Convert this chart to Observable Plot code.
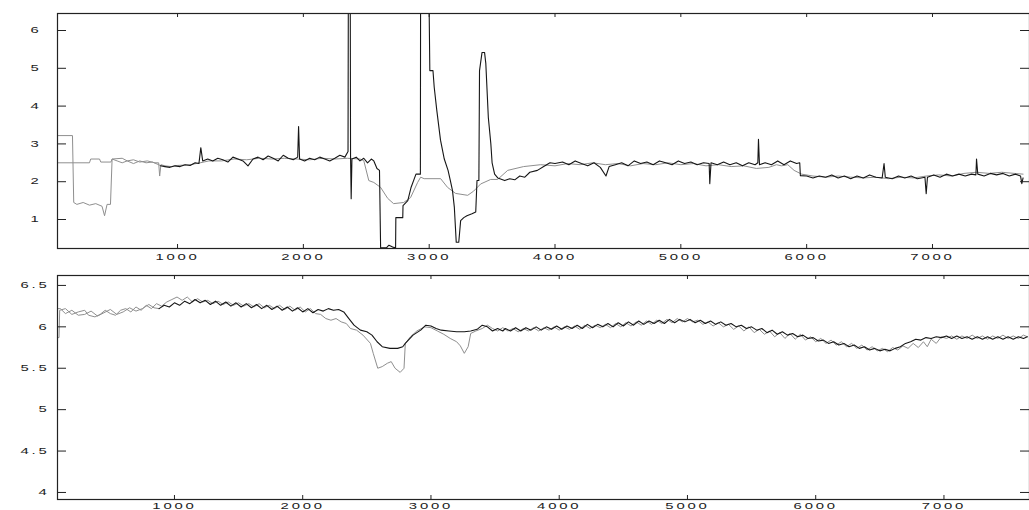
<!DOCTYPE html>
<html>
<head>
<meta charset="utf-8">
<script src="https://cdn.jsdelivr.net/npm/d3@7"></script>
<script src="https://cdn.jsdelivr.net/npm/@observablehq/plot@0.6"></script>
<style>
  html, body { margin: 0; padding: 0; background: #fff; }
  svg { display: block; }
</style>
</head>
<body>
<div id="chart"></div>
<script>
// ---------- tick labels ----------
const xTicks = [1000, 2000, 3000, 4000, 5000, 6000, 7000];
const topYTicks = [1, 2, 3, 4, 5, 6];
const bottomYTicks = [4, 4.5, 5, 5.5, 6, 6.5];

// ---------- top panel series [x, y] ----------
const topGrey = [
  [46,2.50],[300,2.50],[310,2.60],[380,2.60],[390,2.52],[470,2.52],[480,2.60],[560,2.62],[600,2.55],
  [650,2.58],[700,2.52],[760,2.55],[820,2.50],[850,2.50],[858,2.15],[868,2.45],[900,2.42],[950,2.40],
  [1000,2.43],[1100,2.45],[1180,2.50],[1250,2.55],[1350,2.55],[1450,2.60],[1550,2.58],[1650,2.62],
  [1750,2.60],[1850,2.62],[1950,2.60],[2050,2.58],[2150,2.62],[2250,2.60],[2350,2.62],[2450,2.60],
  [2480,2.56],[2520,2.03],[2560,1.98],[2614,1.85],[2670,1.56],[2717,1.42],[2797,1.45],[2852,1.58],
  [2908,1.98],[2932,2.12],[2960,2.08],[3091,2.08],[3146,1.85],[3210,1.69],[3306,1.64],[3353,1.75],
  [3409,1.94],[3489,2.06],[3544,2.06],[3624,2.30],[3750,2.40],[3886,2.45],[4000,2.42],[4100,2.48],
  [4200,2.45],[4300,2.50],[4400,2.45],[4500,2.48],[4600,2.42],[4700,2.48],[4800,2.45],[4900,2.50],
  [5000,2.45],[5100,2.48],[5200,2.42],[5300,2.45],[5400,2.40],[5500,2.42],[5600,2.35],[5700,2.38],
  [5760,2.45],[5800,2.42],[5850,2.45],[5900,2.30],[5960,2.20],[6050,2.15],[6150,2.12],[6250,2.15],
  [6350,2.12],[6450,2.10],[6550,2.12],[6650,2.08],[6750,2.12],[6850,2.10],[6950,2.15],[7050,2.18],
  [7150,2.15],[7250,2.22],[7350,2.25],[7450,2.22],[7550,2.25],[7650,2.22],[7720,2.20]
];
const topBlack = [
  [46,3.22],[165,3.22],[175,1.45],[200,1.40],[250,1.45],[300,1.38],[350,1.42],[400,1.35],[420,1.10],
  [440,1.40],[467,1.40],[480,2.60],[520,2.55],[560,2.50],[600,2.55],[650,2.48],[700,2.55],[750,2.50],
  [800,2.52],[850,2.45],[865,2.42],[900,2.40],[940,2.38],[980,2.42],[1020,2.40],[1060,2.45],[1100,2.43],
  [1140,2.50],[1170,2.48],[1185,2.90],[1200,2.55],[1240,2.60],[1280,2.55],[1320,2.62],[1360,2.58],
  [1400,2.52],[1440,2.65],[1480,2.60],[1520,2.55],[1560,2.42],[1600,2.60],[1640,2.65],[1680,2.58],
  [1720,2.68],[1760,2.62],[1800,2.55],[1840,2.70],[1880,2.62],[1920,2.58],[1955,2.65],[1962,3.46],
  [1970,2.60],[2010,2.55],[2050,2.62],[2090,2.58],[2130,2.65],[2170,2.60],[2210,2.55],[2250,2.62],
  [2290,2.70],[2330,2.65],[2355,2.80],[2358,8],[2372,8],[2375,2.70],[2380,1.55],[2386,2.60],
  [2420,2.65],[2450,2.55],[2480,2.62],[2510,2.50],[2540,2.60],[2560,2.55],[2585,2.35],[2605,2.30],
  [2614,0.25],[2660,0.25],[2680,0.32],[2710,0.27],[2733,0.25],[2735,1.05],[2790,1.05],[2792,1.37],
  [2830,1.50],[2855,1.84],[2895,2.20],[2930,2.20],[2932,8],[2995,8],[3005,4.94],[3030,4.94],
  [3040,4.50],[3060,3.90],[3090,3.10],[3120,2.60],[3150,2.30],[3170,2.00],[3185,1.77],[3200,1.32],
  [3215,0.40],[3235,0.40],[3250,0.97],[3275,1.05],[3300,1.10],[3340,1.15],[3370,1.20],[3380,2.03],
  [3395,2.03],[3400,4.94],[3420,5.42],[3440,5.42],[3450,5.13],[3470,3.70],[3490,3.00],[3500,2.50],
  [3520,2.20],[3545,2.10],[3600,2.03],[3640,2.08],[3680,2.05],[3720,2.15],[3760,2.12],[3800,2.25],
  [3860,2.30],[3910,2.40],[3960,2.50],[4000,2.48],[4060,2.52],[4110,2.45],[4160,2.55],[4210,2.48],
  [4260,2.42],[4310,2.50],[4360,2.38],[4405,2.15],[4430,2.40],[4480,2.45],[4530,2.50],[4580,2.42],
  [4630,2.55],[4680,2.48],[4730,2.52],[4780,2.45],[4830,2.55],[4880,2.50],[4930,2.45],[4980,2.55],
  [5030,2.48],[5080,2.52],[5130,2.45],[5180,2.50],[5225,2.48],[5230,1.95],[5240,2.50],[5290,2.45],
  [5340,2.52],[5390,2.45],[5440,2.50],[5490,2.42],[5540,2.50],[5590,2.45],[5612,2.50],[5617,3.12],
  [5625,2.45],[5670,2.50],[5720,2.45],[5770,2.55],[5820,2.45],[5870,2.55],[5920,2.48],[5945,2.50],
  [5950,2.16],[6000,2.15],[6050,2.10],[6100,2.15],[6150,2.12],[6200,2.18],[6250,2.10],[6300,2.15],
  [6350,2.08],[6400,2.15],[6450,2.10],[6500,2.18],[6550,2.12],[6600,2.10],[6615,2.48],[6625,2.12],
  [6680,2.08],[6730,2.15],[6780,2.10],[6830,2.15],[6880,2.08],[6940,2.12],[6950,1.68],[6960,2.12],
  [7010,2.18],[7060,2.12],[7110,2.20],[7160,2.15],[7210,2.20],[7260,2.15],[7310,2.20],[7345,2.18],
  [7350,2.60],[7360,2.20],[7410,2.15],[7460,2.22],[7510,2.18],[7560,2.22],[7610,2.15],[7660,2.20],
  [7700,2.15],[7710,1.95],[7720,2.10]
];

// ---------- bottom panel series [x, y] ----------
const bottomGrey = [
  [88,5.87],[100,5.87],[105,6.20],[150,6.22],[200,6.15],[250,6.18],[300,6.20],[330,6.14],[380,6.12],
  [420,6.15],[460,6.20],[500,6.16],[540,6.14],[580,6.20],[620,6.22],[660,6.18],[700,6.24],[740,6.20],
  [780,6.26],[820,6.22],[860,6.28],[900,6.25],[940,6.30],[980,6.33],[1020,6.36],[1060,6.32],[1100,6.36],
  [1140,6.30],[1180,6.34],[1220,6.30],[1260,6.32],[1300,6.28],[1340,6.31],[1380,6.27],[1420,6.30],
  [1460,6.26],[1500,6.29],[1540,6.25],[1580,6.28],[1620,6.24],[1660,6.28],[1700,6.23],[1740,6.26],
  [1780,6.22],[1820,6.26],[1860,6.21],[1900,6.25],[1940,6.20],[1980,6.24],[2020,6.18],[2060,6.22],
  [2100,6.16],[2140,6.15],[2180,6.10],[2220,6.08],[2260,6.10],[2300,6.06],[2340,6.04],[2372,5.98],
  [2420,5.96],[2470,5.90],[2528,5.80],[2550,5.68],[2585,5.50],[2620,5.52],[2660,5.56],[2690,5.58],
  [2720,5.50],[2760,5.45],[2790,5.50],[2800,5.80],[2840,5.88],[2890,5.95],[2950,6.00],[3000,5.99],
  [3050,5.95],[3100,5.91],[3150,5.86],[3200,5.82],[3229,5.77],[3260,5.68],[3290,5.76],[3310,5.92],
  [3350,5.95],[3400,5.98],[3440,6.02],[3480,5.98],[3520,5.95],[3560,5.99],[3600,5.95],[3640,5.98],
  [3680,5.94],[3720,5.98],[3760,5.95],[3800,5.99],[3840,5.95],[3880,5.99],[3920,5.96],[3960,6.00],
  [4000,5.96],[4040,6.00],[4080,5.97],[4120,6.01],[4160,5.97],[4200,6.02],[4240,5.98],[4280,6.02],
  [4320,5.99],[4360,6.03],[4400,5.99],[4440,6.04],[4480,6.00],[4520,6.05],[4560,6.01],[4600,6.06],
  [4640,6.02],[4680,6.07],[4720,6.03],[4760,6.08],[4800,6.04],[4840,6.09],[4880,6.05],[4920,6.10],
  [4960,6.06],[5000,6.10],[5040,6.06],[5080,6.08],[5120,6.03],[5160,6.06],[5200,6.01],[5240,6.05],
  [5280,6.00],[5320,6.03],[5360,5.97],[5400,6.01],[5440,5.95],[5480,6.00],[5520,5.93],[5560,5.97],
  [5600,5.91],[5640,5.95],[5680,5.88],[5720,5.93],[5760,5.86],[5800,5.92],[5840,5.85],[5880,5.91],
  [5920,5.84],[5960,5.88],[6000,5.82],[6040,5.86],[6080,5.80],[6120,5.84],[6160,5.78],[6200,5.82],
  [6240,5.76],[6280,5.80],[6320,5.74],[6360,5.78],[6400,5.72],[6440,5.76],[6480,5.71],[6520,5.74],
  [6560,5.70],[6600,5.75],[6640,5.72],[6680,5.77],[6720,5.74],[6760,5.80],[6800,5.75],[6840,5.82],
  [6870,5.76],[6900,5.85],[6940,5.80],[6980,5.88],[7020,5.86],[7060,5.89],[7100,5.85],[7140,5.89],
  [7180,5.86],[7220,5.90],[7260,5.86],[7300,5.89],[7340,5.85],[7380,5.89],[7420,5.86],[7460,5.90],
  [7500,5.86],[7540,5.89],[7580,5.86],[7620,5.90],[7650,5.88]
];
const bottomBlack = [
  [88,6.22],[110,6.22],[150,6.16],[200,6.20],[250,6.14],[300,6.15],[350,6.19],[400,6.13],[450,6.17],
  [500,6.21],[550,6.15],[600,6.18],[650,6.23],[700,6.19],[750,6.22],[800,6.27],[840,6.23],[880,6.22],
  [920,6.26],[960,6.24],[1000,6.29],[1040,6.26],[1080,6.31],[1120,6.28],[1160,6.33],[1200,6.29],
  [1240,6.32],[1280,6.27],[1320,6.31],[1360,6.26],[1400,6.30],[1440,6.25],[1480,6.29],[1520,6.24],
  [1560,6.28],[1600,6.23],[1640,6.27],[1680,6.22],[1720,6.26],[1760,6.21],[1800,6.25],[1840,6.20],
  [1880,6.24],[1920,6.19],[1960,6.23],[2000,6.18],[2040,6.22],[2080,6.17],[2120,6.21],[2160,6.19],
  [2200,6.22],[2240,6.20],[2280,6.21],[2320,6.18],[2360,6.10],[2400,6.02],[2450,5.96],[2500,5.94],
  [2540,5.90],[2580,5.82],[2620,5.76],[2680,5.74],[2740,5.74],[2780,5.76],[2800,5.80],[2860,5.90],
  [2920,5.96],[2960,6.02],[3000,6.01],[3040,5.98],[3080,5.96],[3140,5.95],[3200,5.94],[3260,5.94],
  [3310,5.95],[3360,5.97],[3400,6.02],[3440,6.00],[3480,5.95],[3520,5.98],[3560,5.95],[3580,5.98],
  [3620,5.95],[3660,5.99],[3700,5.95],[3740,5.99],[3780,5.96],[3820,6.00],[3860,5.96],[3900,6.00],
  [3940,5.97],[3980,6.01],[4020,5.97],[4060,6.01],[4100,5.98],[4140,6.02],[4180,5.98],[4220,6.03],
  [4260,5.99],[4300,6.03],[4340,6.00],[4380,6.04],[4420,6.00],[4460,6.05],[4500,6.01],[4540,6.06],
  [4580,6.02],[4620,6.07],[4660,6.03],[4700,6.07],[4740,6.04],[4780,6.08],[4820,6.04],[4860,6.09],
  [4900,6.05],[4940,6.09],[4980,6.06],[5020,6.09],[5060,6.05],[5100,6.08],[5140,6.04],[5180,6.07],
  [5220,6.03],[5260,6.06],[5300,6.02],[5340,6.04],[5380,6.00],[5420,6.02],[5460,5.98],[5500,6.00],
  [5540,5.96],[5580,5.98],[5620,5.93],[5660,5.96],[5700,5.91],[5740,5.94],[5780,5.90],[5820,5.92],
  [5860,5.88],[5900,5.90],[5940,5.86],[5980,5.87],[6020,5.83],[6060,5.84],[6100,5.80],[6140,5.82],
  [6180,5.78],[6220,5.80],[6260,5.76],[6300,5.78],[6340,5.74],[6380,5.76],[6420,5.72],[6460,5.74],
  [6500,5.71],[6540,5.73],[6580,5.71],[6620,5.74],[6660,5.76],[6700,5.80],[6740,5.82],[6780,5.85],
  [6820,5.84],[6860,5.87],[6900,5.86],[6940,5.88],[6980,5.87],[7020,5.89],[7060,5.86],[7100,5.89],
  [7140,5.86],[7180,5.88],[7220,5.85],[7260,5.88],[7300,5.85],[7340,5.88],[7380,5.85],[7420,5.88],
  [7460,5.85],[7500,5.88],[7540,5.85],[7580,5.88],[7620,5.86],[7650,5.88]
];

// ---------- drawing ----------
const toObj = a => a.map(([x, y]) => ({x, y}));
const GREY = "#8f8f8f", BLACK = "#161616", INK = "#222";
const W = 1029;
const plainFormat = d => String(d);

function panel({height, marginTop, marginBottom, xDomain, yDomain, yTicks, greyData, blackData, blackStart, labelPadY, labelPadX}) {
  const innerW = W - 57 - 0;
  const innerH = height - marginTop - marginBottom;
  const dxPerPx = (xDomain[1] - xDomain[0]) / innerW;
  const dyPerPx = (yDomain[1] - yDomain[0]) / innerH;
  const tx = 9 * dxPerPx, ty = 4 * dyPerPx;
  const g = toObj(greyData), b = toObj(blackData);
  return Plot.plot({
    width: W, height, marginLeft: 57, marginRight: 0, marginTop, marginBottom,
    style: {background: "#fff", overflow: "visible", fontFamily: "Liberation Sans, Arial, sans-serif"},
    x: {domain: xDomain},
    y: {domain: yDomain},
    marks: [
      Plot.line(g, {x: "x", y: "y", stroke: GREY, strokeWidth: 1, clip: true}),
      Plot.line(b.filter(d => d.x <= blackStart), {x: "x", y: "y", stroke: GREY, strokeWidth: 1, clip: true}),
      Plot.line(b.filter(d => d.x >= blackStart), {x: "x", y: "y", stroke: BLACK, strokeWidth: 1.1, clip: true}),
      // inward ticks on all four sides
      Plot.ruleX(xTicks, {x: d => d, y1: yDomain[0], y2: yDomain[0] + ty, stroke: INK}),
      Plot.ruleX(xTicks, {x: d => d, y1: yDomain[1] - ty, y2: yDomain[1], stroke: INK}),
      Plot.ruleY(yTicks, {y: d => d, x1: xDomain[0], x2: xDomain[0] + tx, stroke: INK}),
      Plot.ruleY(yTicks, {y: d => d, x1: xDomain[1] - tx, x2: xDomain[1], stroke: INK}),
      Plot.frame({stroke: INK, strokeWidth: 1.2}),
      Plot.axisX(xTicks, {anchor: "bottom", tickSize: 0, tickPadding: labelPadX, fontSize: 8.5, fill: INK, label: null, tickFormat: plainFormat}),
      Plot.axisY(yTicks, {anchor: "left", tickSize: 0, tickPadding: labelPadY, fontSize: 8.5, fill: INK, label: null, tickFormat: plainFormat})
    ]
  });
}

const topPanel = panel({
  height: 262, marginTop: 13, marginBottom: 14,
  xDomain: [46, 7771], yDomain: [0.233, 6.45], yTicks: topYTicks,
  greyData: topGrey, blackData: topBlack, blackStart: 865, labelPadY: 16, labelPadX: 5
});
const bottomPanel = panel({
  height: 248, marginTop: 13, marginBottom: 11,
  xDomain: [88, 7667], yDomain: [3.915, 6.62], yTicks: bottomYTicks,
  greyData: bottomGrey, blackData: bottomBlack, blackStart: 880, labelPadY: 8, labelPadX: 3
});

// stretch tick labels horizontally like the reference
function stretch(svg) {
  svg.querySelectorAll('g[aria-label$="tick label"] text').forEach(t => {
    t.setAttribute("letter-spacing", "1.6");
    let tr = t.getAttribute("transform");
    if (!tr) {
      const x = +t.getAttribute("x") || 0, y = +t.getAttribute("y") || 0;
      t.removeAttribute("x"); t.removeAttribute("y");
      tr = `translate(${x},${y})`;
    }
    t.setAttribute("transform", tr + " scale(1.75,1)");
  });
}
stretch(topPanel); stretch(bottomPanel);
document.getElementById("chart").append(topPanel, bottomPanel);
</script>
</body>
</html>
